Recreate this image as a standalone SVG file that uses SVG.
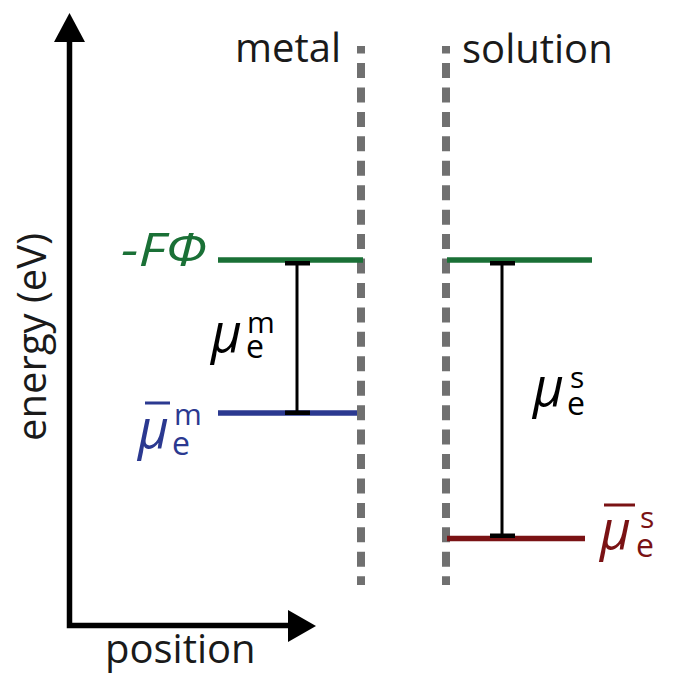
<svg xmlns="http://www.w3.org/2000/svg" width="693" height="678" viewBox="0 0 693 678">
<style>
  .lbl{font-family:"Open Sans","Liberation Sans",sans-serif;font-size:40px;fill:#1a1a1a;font-weight:500}
  .sym{font-family:"Open Sans","Liberation Sans",sans-serif}
  .mu{font-style:italic;font-size:53px;font-weight:500}
  .sub{font-size:32px;font-weight:500}
  .sup{font-size:30px;font-weight:500}
  .bnd{stroke:#707070;stroke-width:8;stroke-dasharray:15 9.44;stroke-dashoffset:7.44;fill:none}
  .lvl{stroke-width:5.5;fill:none}
  .bar{stroke:#000;stroke-width:3;fill:none}
  .cap{fill:#000}
  .green{stroke:#1a7036}
  .blue{stroke:#2b3990}
  .red{stroke:#7a1214}
</style>
<rect width="693" height="678" fill="#fff"/>
<g id="axes">
  <path d="M69.5,40 V625.5 H290" stroke="#000" stroke-width="5.5" fill="none"/>
  <polygon points="69.5,13 54,42 85,42" fill="#000"/>
  <polygon points="316,626 288,610 288,642" fill="#000"/>
  <text class="lbl" x="105" y="663">position</text>
  <text class="lbl" transform="translate(46,337) rotate(-90)" text-anchor="middle">energy (eV)</text>
</g>
<g id="metal-boundary">
  <line class="bnd" x1="361" y1="46" x2="361" y2="585"/>
  <text class="lbl" x="235" y="62">metal</text>
</g>
<g id="solution-boundary">
  <line class="bnd" x1="446" y1="46" x2="446" y2="585"/>
  <text class="lbl" x="462" y="63">solution</text>
</g>
<g id="metal-vacuum-level">
  <line class="lvl green" x1="218" y1="260" x2="363" y2="260"/>
  <text x="121" y="266" fill="#1a7036" font-family="'Open Sans','Liberation Sans',sans-serif" font-style="italic" font-weight="500" font-size="45" textLength="86" lengthAdjust="spacingAndGlyphs">-FΦ</text>
</g>
<g id="metal-fermi-level">
  <line class="lvl blue" x1="218" y1="413" x2="357" y2="413"/>
  <g fill="#2b3990">
    <rect x="145" y="401.5" width="25" height="3"/>
    <text class="sym"><tspan class="mu" x="138" y="448">μ</tspan><tspan class="sub" x="172" y="455">e</tspan><tspan class="sup" x="174" y="425">m</tspan></text>
  </g>
</g>
<g id="solution-vacuum-level">
  <line class="lvl green" x1="447" y1="260" x2="592" y2="260"/>
</g>
<g id="solution-fermi-level">
  <line class="lvl red" x1="447" y1="538.5" x2="585" y2="538.5"/>
  <g fill="#7a1214">
    <rect x="604" y="503.5" width="31" height="3"/>
    <text class="sym"><tspan class="mu" x="600" y="549">μ</tspan><tspan class="sub" x="636" y="557">e</tspan><tspan class="sup" x="640" y="528">s</tspan></text>
  </g>
</g>
<g id="connectors">
  <g id="mu-metal">
    <line class="bar" x1="297" y1="263" x2="297" y2="413"/>
    <rect class="cap" x="285" y="261" width="25" height="4.5"/>
    <rect class="cap" x="285" y="410.5" width="25" height="4.5"/>
    <text class="sym" fill="#000"><tspan class="mu" x="211" y="352">μ</tspan><tspan class="sub" x="246" y="358">e</tspan><tspan class="sup" x="247" y="333">m</tspan></text>
  </g>
  <g id="mu-solution">
    <line class="bar" x1="502" y1="263" x2="502" y2="536"/>
    <rect class="cap" x="490" y="261" width="25" height="4.5"/>
    <rect class="cap" x="490" y="533.5" width="25" height="4.5"/>
    <text class="sym" fill="#000"><tspan class="mu" x="533" y="406">μ</tspan><tspan class="sub" x="567" y="415">e</tspan><tspan class="sup" x="570" y="388">s</tspan></text>
  </g>
</g>
</svg>
